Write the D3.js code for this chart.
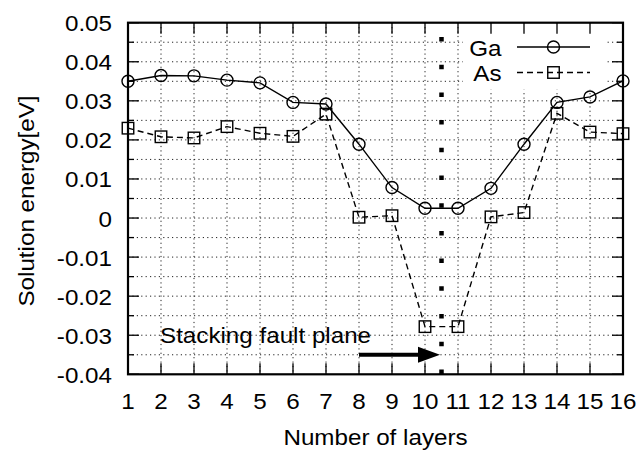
<!DOCTYPE html>
<html>
<head>
<meta charset="utf-8">
<script src="https://cdn.jsdelivr.net/npm/d3@7"></script>
<style>
  body { margin: 0; background: #fff; }
  svg { display: block; }
  text { font-family: "Liberation Sans", Arial, sans-serif; font-size: 22px; fill: #000; }
</style>
</head>
<body>
<div id="chart"></div>
<script>
// Solution energy vs layer index
var layers = [1, 2, 3, 4, 5, 6, 7, 8, 9, 10, 11, 12, 13, 14, 15, 16];
var gaEnergy = [0.0350, 0.0365, 0.0364, 0.0353, 0.0346, 0.0296, 0.0292, 0.0189,
                0.0078, 0.0025, 0.0025, 0.0076, 0.0189, 0.0296, 0.0310, 0.0351];
var asEnergy = [0.0230, 0.0208, 0.0205, 0.0234, 0.0217, 0.0209, 0.0266, 0.0002,
                0.0006, -0.0278, -0.0278, 0.0003, 0.0014, 0.0268, 0.0220, 0.0216];
var yTicks = [-0.04, -0.03, -0.02, -0.01, 0, 0.01, 0.02, 0.03, 0.04, 0.05];
var yTickLabels = ["-0.04", "-0.03", "-0.02", "-0.01", "0", "0.01", "0.02", "0.03", "0.04", "0.05"];
var yMinor = [-0.035, -0.025, -0.015, -0.005, 0.005, 0.015, 0.025, 0.035, 0.045];
var faultPlane = 10.5;
var seriesNames = ["Ga", "As"];

var width = 640, height = 450;
var margin = {top: 22.7, left: 128, right: 17, bottom: 75.7};
var sx = 1.1; // the reference font is a bit wider than Arial

var svg = d3.select("#chart").append("svg")
    .attr("width", width)
    .attr("height", height);

var x = d3.scaleLinear().domain([1, 16]).range([margin.left, width - margin.right]);
var y = d3.scaleLinear().domain([-0.04, 0.05]).range([height - margin.bottom, margin.top]);

var x0 = x.range()[0], x1 = x.range()[1];
var yTop = y.range()[1], yBot = y.range()[0];

function label(g, px, py, str, anchor, rot) {
    var t = "translate(" + px + "," + py + ")";
    if (rot) t += " rotate(" + rot + ")";
    t += " scale(" + sx + ",1)";
    return g.append("text")
        .attr("transform", t)
        .attr("text-anchor", anchor || "start")
        .text(str);
}

// dotted grid
var grid = svg.append("g")
    .attr("stroke", "#222")
    .attr("stroke-width", 1)
    .attr("stroke-dasharray", "1.2,3.2");
grid.selectAll(".gy")
    .data(yTicks.concat(yMinor).filter(function(d) { return d > -0.04 && d < 0.05; }))
    .enter().append("line")
    .attr("x1", x0).attr("x2", x1)
    .attr("y1", function(d) { return y(d); })
    .attr("y2", function(d) { return y(d); });
grid.selectAll(".gx")
    .data(layers.slice(1, -1))
    .enter().append("line")
    .attr("y1", yTop).attr("y2", yBot)
    .attr("x1", function(d) { return x(d); })
    .attr("x2", function(d) { return x(d); });

// legend background covers the grid
svg.append("rect")
    .attr("x", 463).attr("y", yTop + 1)
    .attr("width", 143).attr("height", 66)
    .attr("fill", "#fff");

// axes: ticks point inward on all four sides
var yMajorLen = 11, yMinorLen = 6;
var axisG = svg.append("g").attr("stroke", "#000").attr("stroke-width", 1.3);
yTicks.map(function(d) { return {v: d, l: yMajorLen}; })
    .concat(yMinor.map(function(d) { return {v: d, l: yMinorLen}; }))
    .forEach(function(d) {
        axisG.append("line")
            .attr("x1", x0).attr("x2", x0 + d.l)
            .attr("y1", y(d.v)).attr("y2", y(d.v));
        axisG.append("line")
            .attr("x1", x1).attr("x2", x1 - d.l)
            .attr("y1", y(d.v)).attr("y2", y(d.v));
    });
layers.forEach(function(d) {
    axisG.append("line")
        .attr("x1", x(d)).attr("x2", x(d))
        .attr("y1", yBot).attr("y2", yBot - yMajorLen);
    axisG.append("line")
        .attr("x1", x(d)).attr("x2", x(d))
        .attr("y1", yTop).attr("y2", yTop + yMajorLen);
});
svg.append("rect")
    .attr("x", x0).attr("y", yTop)
    .attr("width", x1 - x0).attr("height", yBot - yTop)
    .attr("fill", "none")
    .attr("stroke", "#000")
    .attr("stroke-width", 2.2);

// tick labels
var texts = svg.append("g");
yTicks.forEach(function(d, i) {
    label(texts, x0 - 16, y(d) + 8.5, yTickLabels[i], "end");
});
layers.forEach(function(d) {
    label(texts, x(d), yBot + 35, String(d), "middle");
});
label(texts, (x0 + x1) / 2, 445, "Number of layers", "middle");
label(texts, 34, 201, "Solution energy[eV]", "middle", -90);

// series
var lineGen = d3.line()
    .x(function(d) { return x(d[0]); })
    .y(function(d) { return y(d[1]); });
var gaData = layers.map(function(d, i) { return [d, gaEnergy[i]]; });
var asData = layers.map(function(d, i) { return [d, asEnergy[i]]; });

svg.append("path")
    .datum(asData)
    .attr("d", lineGen)
    .attr("fill", "none")
    .attr("stroke", "#000")
    .attr("stroke-width", 1.4)
    .attr("stroke-dasharray", "6,4");
svg.append("path")
    .datum(gaData)
    .attr("d", lineGen)
    .attr("fill", "none")
    .attr("stroke", "#000")
    .attr("stroke-width", 1.4);

var sq = 11.5;
svg.selectAll(".asPt")
    .data(asData).enter()
    .append("rect")
    .attr("x", function(d) { return x(d[0]) - sq / 2; })
    .attr("y", function(d) { return y(d[1]) - sq / 2; })
    .attr("width", sq).attr("height", sq)
    .attr("fill", "none")
    .attr("stroke", "#000")
    .attr("stroke-width", 1.4);
svg.selectAll(".gaPt")
    .data(gaData).enter()
    .append("circle")
    .attr("cx", function(d) { return x(d[0]); })
    .attr("cy", function(d) { return y(d[1]); })
    .attr("r", 6)
    .attr("fill", "none")
    .attr("stroke", "#000")
    .attr("stroke-width", 1.4);

// stacking fault plane marker
svg.append("line")
    .attr("x1", x(faultPlane)).attr("x2", x(faultPlane))
    .attr("y1", yTop).attr("y2", yBot)
    .attr("stroke", "#000")
    .attr("stroke-width", 4.5)
    .attr("stroke-dasharray", "4.5,23.2")
    .attr("stroke-dashoffset", 13.4);

// annotation arrow
var arrowY = y(-0.035);
var tipX = x(faultPlane) - 1.5;
svg.append("line")
    .attr("x1", x(8)).attr("x2", tipX - 18)
    .attr("y1", arrowY).attr("y2", arrowY)
    .attr("stroke", "#000")
    .attr("stroke-width", 4);
svg.append("path")
    .attr("d", "M" + tipX + "," + arrowY + " L" + (tipX - 22) + "," + (arrowY - 8) +
               " L" + (tipX - 22) + "," + (arrowY + 8) + " Z")
    .attr("fill", "#000");
label(texts, x(2) - 1, y(-0.0321), "Stacking fault plane", "start");

// legend
var legY = [47, 72.5];
seriesNames.forEach(function(name, i) {
    var ly = legY[i];
    label(texts, 501.5, ly + 8.5, name, "end");
    var ln = svg.append("line")
        .attr("x1", 517).attr("x2", 590)
        .attr("y1", ly).attr("y2", ly)
        .attr("stroke", "#000")
        .attr("stroke-width", 1.4);
    if (i === 1) ln.attr("stroke-dasharray", "6,4");
    if (i === 0) {
        svg.append("circle")
            .attr("cx", 553.5).attr("cy", ly).attr("r", 6)
            .attr("fill", "none").attr("stroke", "#000").attr("stroke-width", 1.4);
    } else {
        svg.append("rect")
            .attr("x", 553.5 - sq / 2).attr("y", ly - sq / 2)
            .attr("width", sq).attr("height", sq)
            .attr("fill", "none").attr("stroke", "#000").attr("stroke-width", 1.4);
    }
});
</script>
</body>
</html>
